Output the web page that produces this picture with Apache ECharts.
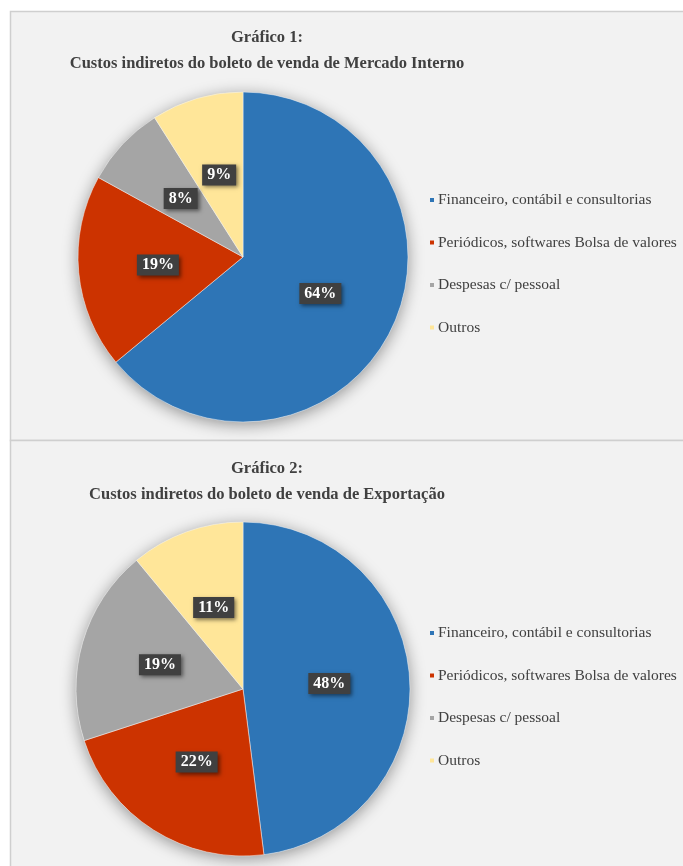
<!DOCTYPE html>
<html>
<head>
<meta charset="utf-8">
<script src="https://cdn.jsdelivr.net/npm/echarts@6/dist/echarts.min.js"></script>
<style>
  html, body { margin: 0; padding: 0; background: #fff; }
  #main { width: 683px; height: 866px; }
</style>
</head>
<body>
<div id="main"></div>
<script>
// categorias e valores (%)
var categorias = [
  'Financeiro, contábil e consultorias',
  'Periódicos, softwares Bolsa de valores',
  'Despesas c/ pessoal',
  'Outros'
];
var cores = ['#2e75b6', '#cc3300', '#a5a5a5', '#ffe699'];
var mercadoInterno = [64, 19, 8, 9];
var exportacao = [48, 22, 19, 11];
var titulos = [
  'Gráfico 1:\nCustos indiretos do boleto de venda de Mercado Interno',
  'Gráfico 2:\nCustos indiretos do boleto de venda de Exportação'
];

var chart = echarts.init(document.getElementById('main'));

function toData(vals) {
  return vals.map(function (v, i) {
    return { name: categorias[i], value: v };
  });
}

var serif = '"Liberation Serif", "Times New Roman", serif';

var labelOpt = {
  show: true,
  position: 'inside',
  formatter: '{c}%',
  color: '#fff',
  fontFamily: serif,
  fontWeight: 'bold',
  fontSize: 16,
  backgroundColor: '#404040',
  padding: [3, 5, 2, 5],
  shadowColor: 'rgba(0,0,0,0.5)',
  shadowBlur: 4,
  shadowOffsetX: 2,
  shadowOffsetY: 2
};

function legendOpt(top) {
  return {
    orient: 'vertical',
    left: 428,
    top: top,
    padding: 0,
    icon: 'rect',
    itemWidth: 6,
    itemHeight: 6,
    itemGap: 26.5,
    selectedMode: false,
    data: categorias,
    textStyle: {
      fontFamily: serif,
      fontSize: 15.5,
      lineHeight: 16,
      color: '#404040',
      padding: [0, 0, 0, -2]
    }
  };
}

function titleOpt(text, top) {
  return {
    text: text,
    left: 267,
    top: top,
    padding: 0,
    textAlign: 'center',
    textStyle: {
      fontFamily: serif,
      fontWeight: 'bold',
      fontSize: 16.5,
      lineHeight: 26,
      color: '#404040'
    }
  };
}

function sombra(center, radius) {
  // disco só para a sombra suave por trás da pizza
  return {
    type: 'pie',
    silent: true,
    center: center,
    radius: radius,
    z: 1,
    label: { show: false },
    legendHoverLink: false,
    data: [{ value: 1, name: '', itemStyle: { color: '#e8e8e8' } }],
    itemStyle: {
      shadowColor: 'rgba(0,0,0,0.4)',
      shadowBlur: 16,
      shadowOffsetY: 3
    }
  };
}

function pizza(vals, center, radius) {
  return {
    type: 'pie',
    center: center,
    radius: radius,
    z: 2,
    startAngle: 90,
    clockwise: true,
    color: cores,
    data: toData(vals),
    label: labelOpt,
    labelLine: { show: false },
    itemStyle: { borderColor: '#f2f2f2', borderWidth: 0.5 },
    emphasis: { scale: false }
  };
}

var option = {
  animation: false,
  color: cores,
  graphic: [
    { type: 'rect', shape: { x: 10.5, y: 11.5, width: 700, height: 429 },
      style: { fill: '#f2f2f2', stroke: '#cfcfcf', lineWidth: 1.5 }, z: -10 },
    { type: 'rect', shape: { x: 10.5, y: 440.5, width: 700, height: 440 },
      style: { fill: '#f2f2f2', stroke: '#cfcfcf', lineWidth: 1.5 }, z: -10 }
  ],
  title: [
    titleOpt(titulos[0], 25),
    titleOpt(titulos[1], 456)
  ],
  legend: [
    legendOpt(192),
    legendOpt(625)
  ],
  series: [
    sombra([243, 257], 165),
    pizza(mercadoInterno, [243, 257], 165),
    sombra([243, 689], 167),
    pizza(exportacao, [243, 689], 167)
  ]
};

chart.setOption(option);
</script>
</body>
</html>
